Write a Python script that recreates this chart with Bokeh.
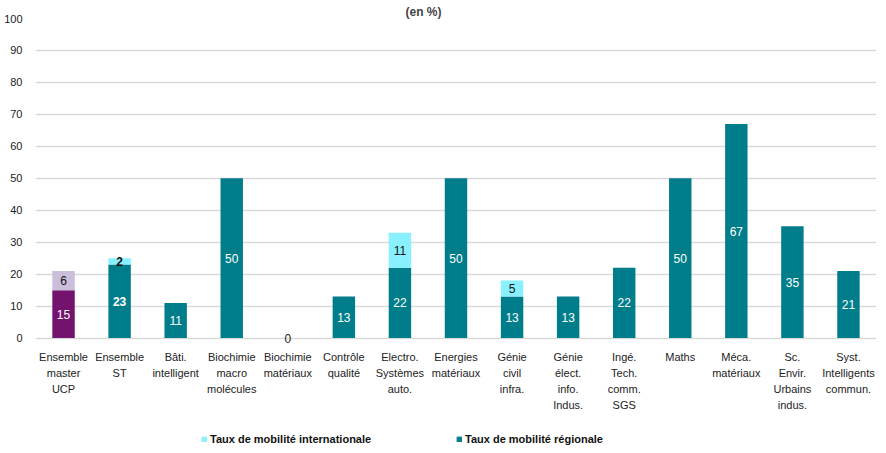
from bokeh.plotting import figure
from bokeh.layouts import column
from bokeh.models import (FactorRange, Range1d, FixedTicker, ColumnDataSource, CDSView,
                          IndexFilter, Legend, LegendItem)
from bokeh.embed import file_html
from bokeh.resources import INLINE

categories = ["Ensemble\nmaster\nUCP", "Ensemble\nST", "Bâti.\nintelligent",
              "Biochimie\nmacro\nmolécules", "Biochimie\nmatériaux", "Contrôle\nqualité",
              "Electro.\nSystèmes\nauto.", "Energies\nmatériaux", "Génie\ncivil\ninfra.",
              "Génie\nélect.\ninfo.\nIndus.", "Ingé.\nTech.\ncomm.\nSGS", "Maths",
              "Méca.\nmatériaux", "Sc.\nEnvir.\nUrbains\nindus.", "Syst.\nIntelligents\ncommun."]
regionale = [15, 23, 11, 50, 0, 13, 22, 50, 13, 13, 22, 50, 67, 35, 21]
internationale = [6, 2, 0, 0, 0, 0, 11, 0, 5, 0, 0, 0, 0, 0, 0]
y_ticks = [0, 10, 20, 30, 40, 50, 60, 70, 80, 90, 100]
bold_bars = ["Ensemble\nST"]
series_names = ["Taux de mobilité internationale", "Taux de mobilité régionale"]

FONT = "Liberation Sans"
TEAL = "#007D8A"
CYAN = "#88F0FF"
PURPLE = "#74136E"
LAVENDER = "#CBBEDA"

total = [r + i for r, i in zip(regionale, internationale)]
src = ColumnDataSource(dict(
    cat=categories,
    reg=regionale,
    intl=internationale,
    total=total,
    reg_mid=[r / 2 for r in regionale],
    intl_mid=[r + i / 2 for r, i in zip(regionale, internationale)],
    reg_label=[str(r) for r in regionale],
    intl_label=[str(i) if i > 0 else "" for i in internationale],
    reg_color=["white" if r > 0 else "#222222" for r in regionale],
    style=["bold" if c in bold_bars else "normal" for c in categories],
))

xr = FactorRange(factors=categories)
p = figure(width=876, height=424, output_backend="svg", toolbar_location=None,
           x_range=xr, y_range=Range1d(-2, 100),
           min_border_left=35, min_border_right=0, min_border_top=18, min_border_bottom=80)

ucp = CDSView(filter=IndexFilter([0]))
rest = CDSView(filter=IndexFilter(list(range(1, len(categories)))))

W = 0.4
p.vbar(x="cat", bottom=0, top="reg", width=W, source=src, view=ucp,
       fill_color=PURPLE, line_color=None)
p.vbar(x="cat", bottom="reg", top="total", width=W, source=src, view=ucp,
       fill_color=LAVENDER, line_color=None)
p.vbar(x="cat", bottom=0, top="reg", width=W, source=src, view=rest,
       fill_color=TEAL, line_color=None)
p.vbar(x="cat", bottom="reg", top="total", width=W, source=src, view=rest,
       fill_color=CYAN, line_color=None)

p.text(x="cat", y="reg_mid", text="reg_label", source=src, text_color="reg_color",
       text_font_style="style", text_align="center", text_baseline="middle",
       text_font_size="12px", text_font={"value": FONT})
p.text(x="cat", y="intl_mid", text="intl_label", source=src, text_color="#111111",
       text_font_style="style", text_align="center", text_baseline="middle",
       text_font_size="12px", text_font={"value": FONT})

p.title.text = "(en %)"
p.title.align = "left"
p.title.offset = 370
p.title.text_font = FONT
p.title.text_font_size = "12px"
p.title.text_font_style = "bold"
p.title.standoff = 0

p.outline_line_color = None
p.xgrid.visible = False
p.ygrid.ticker = FixedTicker(ticks=y_ticks)
p.ygrid.grid_line_color = "#D9D9D9"
p.ygrid.grid_line_width = 1.5

p.yaxis.ticker = FixedTicker(ticks=y_ticks)
p.yaxis.axis_line_color = None
p.yaxis.major_tick_line_color = None
p.yaxis.minor_tick_line_color = None
p.yaxis.major_label_text_font = FONT
p.yaxis.major_label_text_font_size = "11px"
p.yaxis.major_label_text_color = "#222222"
p.yaxis.major_label_standoff = 7

p.xaxis.axis_line_color = None
p.xaxis.major_tick_line_color = None
p.xaxis.minor_tick_line_color = None
p.xaxis.major_label_text_font = FONT
p.xaxis.major_label_text_font_size = "11px"
p.xaxis.major_label_text_color = "#222222"
p.xaxis.major_label_text_line_height = 1.35
p.xaxis.major_label_standoff = 0

# legend strip below the chart (its bars lie outside its visible range)
lg = figure(width=876, height=21, output_backend="svg", toolbar_location=None,
            x_range=xr, y_range=Range1d(1000, 1001),
            x_axis_location=None, y_axis_location=None,
            min_border_left=0, min_border_right=0, min_border_top=0, min_border_bottom=0)
lg.grid.visible = False
lg.outline_line_color = None
intl_r = lg.vbar(x="cat", bottom="reg", top="total", width=W, source=src, fill_color=CYAN, line_color=CYAN)
reg_r = lg.vbar(x="cat", bottom=0, top="reg", width=W, source=src, fill_color=TEAL, line_color=TEAL)

legend = Legend(items=[LegendItem(label=series_names[0], renderers=[intl_r]),
                       LegendItem(label=series_names[1], renderers=[reg_r])],
                orientation="horizontal", location=(166, 0),
                label_text_font=FONT, label_text_font_size="11px", label_text_font_style="bold",
                label_text_color="#111111", glyph_width=6, glyph_height=6,
                label_standoff=3, label_width=246, spacing=0, padding=2, margin=0,
                border_line_color=None, background_fill_alpha=0)
lg.add_layout(legend, "center")

layout = column(p, lg, spacing=0)
open("out.html", "w").write(file_html(layout, INLINE))
